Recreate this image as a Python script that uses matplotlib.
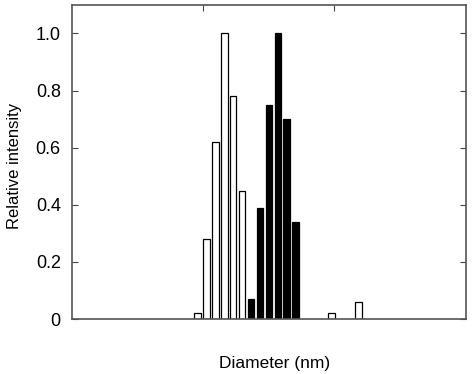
import numpy as np
import matplotlib
matplotlib.use("Agg")
import matplotlib.pyplot as plt

plt.rcParams['font.family'] = ['Liberation Sans', 'DejaVu Sans']

# bin index along diameter axis (bins are evenly spaced on the plot)
white_bins = [0, 1, 2, 3, 4, 5, 15, 18]
white_vals = [0.02, 0.28, 0.62, 1.0, 0.78, 0.45, 0.02, 0.06]

black_bins = [6, 7, 8, 9, 10, 11]
black_vals = [0.07, 0.39, 0.75, 1.0, 0.70, 0.34]

yticks = [0, 0.2, 0.4, 0.6, 0.8, 1.0]
ytick_labels = ['0', '0.2', '0.4', '0.6', '0.8', '1.0']
top_ticks = [0.6, 15.25]

fig = plt.figure(figsize=(4.76, 3.74), dpi=100)
ax = fig.add_axes([0.151, 0.147, 0.828, 0.840])

ax.bar(white_bins, white_vals, width=0.75, color='white', edgecolor='black', linewidth=0.9)
ax.bar(black_bins, black_vals, width=0.75, color='black', edgecolor='black', linewidth=0.9)

ax.set_xlim(-14, 30)
ax.set_ylim(0, 1.1)

ax.set_yticks(yticks)
ax.set_yticklabels(ytick_labels, fontsize=13)
ax.tick_params(axis='y', direction='in', length=4, right=True, color='#444', pad=8)
ax.set_xticks([])

sec = ax.secondary_xaxis('top')
sec.set_xticks(top_ticks)
sec.set_xticklabels([])
sec.tick_params(direction='in', length=4, color='#444')
sec.spines['top'].set_visible(False)

for s in ax.spines.values():
    s.set_color('#555')
    s.set_linewidth(1.2)

ax.set_ylabel('Relative intensity', fontsize=12)
ax.yaxis.set_label_coords(-0.145, 0.486)
ax.yaxis.label.set_verticalalignment('center')
ax.set_xlabel('Diameter (nm)', fontsize=12.5)
ax.xaxis.set_label_coords(0.513, -0.14)
ax.xaxis.label.set_verticalalignment('center')

fig.savefig('out.png', dpi=100)
